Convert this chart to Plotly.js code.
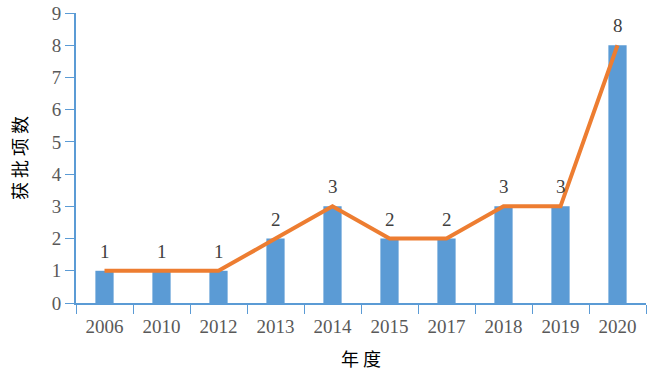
<!DOCTYPE html>
<html><head><meta charset="utf-8">
<script src="https://cdn.plot.ly/plotly-3.0.1.min.js"></script>
<style>html,body{margin:0;padding:0;background:#fff}#c{width:659px;height:376px}</style>
</head><body><div id="c"></div>
<script>
const years = ['2006','2010','2012','2013','2014','2015','2017','2018','2019','2020'];
const counts = [1,1,1,2,3,2,2,3,3,8];
const yTicks = [0,1,2,3,4,5,6,7,8,9];

const serif = '"Liberation Serif", "Times New Roman", serif';
const cjk = '"Noto Sans CJK SC", sans-serif';
const axisBlue = '#5B9BD5';

const traces = [
  {type:'bar', x:years, y:counts, marker:{color:'#5B9BD5'}, hoverinfo:'none'},
  {type:'scatter', mode:'lines', x:years, y:counts, line:{color:'#ED7D31', width:4}, hoverinfo:'none'}
];

const annotations = years.map((yr,i)=>({
  x: i, y: counts[i], xref:'x', yref:'y', text: String(counts[i]), showarrow:false,
  yanchor:'bottom', yshift:7, font:{family:serif, size:19, color:'#404040'}
}));

const layout = {
  width:659, height:376,
  margin:{l:76, r:13, t:13, b:73},
  paper_bgcolor:'#fff', plot_bgcolor:'#fff',
  showlegend:false,
  bargap:0.68,
  annotations: annotations,
  xaxis:{
    type:'category', range:[-0.5, years.length-0.5], tickangle:0,
    tickson:'boundaries', ticks:'outside', ticklen:9, tickcolor:axisBlue,
    ticklabelstandoff:5,
    showline:true, linecolor:axisBlue, linewidth:2, showgrid:false, zeroline:false,
    tickfont:{family:serif, size:19, color:'#595959'},
    title:{text:'年 度', font:{family:cjk, size:18, color:'#000'}, standoff:18}
  },
  yaxis:{
    range:[0,9], tickvals:yTicks, ticks:'outside', ticklen:9, tickcolor:axisBlue,
    showline:true, linecolor:axisBlue, linewidth:2, showgrid:false, zeroline:false,
    tickfont:{family:serif, size:19, color:'#595959'},
    title:{text:'获 批 项 数', font:{family:cjk, size:18, color:'#000'}, standoff:19}
  }
};
Plotly.newPlot('c', traces, layout, {displayModeBar:false, staticPlot:true});
</script></body></html>
